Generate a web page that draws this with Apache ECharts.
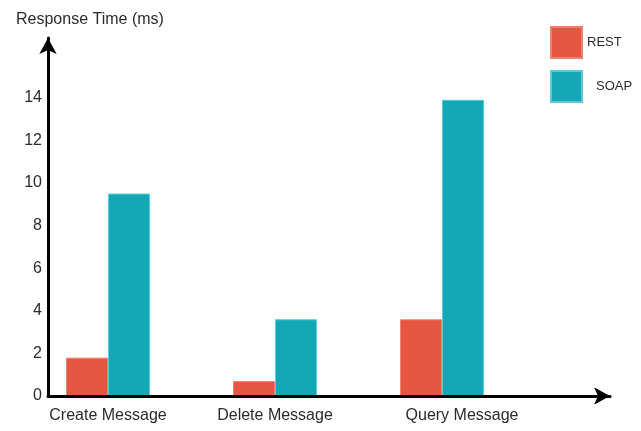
<!DOCTYPE html>
<html><head><meta charset="utf-8">
<script src="https://cdn.jsdelivr.net/npm/echarts@6/dist/echarts.min.js"></script>
<style>html,body{margin:0;padding:0;background:#fff}#c{width:641px;height:431px}</style>
</head><body><div id="c"></div>
<script>
const categories = ['Create Message', 'Delete Message', 'Query Message'];
const restValues = [1.8, 0.7, 3.6];
const soapValues = [9.5, 3.6, 13.9];
const yTickLabels = [0, 2, 4, 6, 8, 10, 12, 14];
const seriesNames = ['REST', 'SOAP'];
const yTitle = 'Response Time (ms)';

const FONT = 'Liberation Sans, Arial, sans-serif';
const TXT = '#2b2b2b';
const chart = echarts.init(document.getElementById('c'), null, {renderer: 'canvas'});
const yMax = 16.8;

chart.setOption({
  backgroundColor: '#fff',
  animation: false,
  title: {
    text: yTitle, left: 11, top: 7,
    textStyle: {fontFamily: FONT, fontSize: 16, fontWeight: 'normal', color: TXT}
  },
  legend: {
    orient: 'vertical', left: 545, top: 21,
    itemWidth: 31, itemHeight: 31, itemGap: 11,
    icon: 'rect',
    data: [
      {name: seriesNames[0], textStyle: {padding: [4, 0, 0, 0]}},
      {name: seriesNames[1], textStyle: {padding: [10, 0, 0, 9]}}
    ],
    textStyle: {fontFamily: FONT, fontSize: 13, color: TXT}
  },
  grid: [
    {left: 24.5, right: 115.5, top: 38, bottom: 35},
    {left: 48, right: 31, top: 38, bottom: 35}
  ],
  xAxis: [
    {
      type: 'category', gridIndex: 0,
      data: categories.map((c, i) => i === 2 ? {value: c, textStyle: {padding: [0, 0, 0, 40]}} : c),
      axisLine: {show: false}, axisTick: {show: false},
      axisLabel: {margin: 12, fontFamily: FONT, fontSize: 16, color: TXT}
    },
    {
      type: 'category', gridIndex: 1, data: categories, z: 5,
      axisLine: {show: true, symbol: ['none', 'arrow'], symbolSize: [13, 16],
                 lineStyle: {color: '#000', width: 3}},
      axisTick: {show: false}, axisLabel: {show: false}
    }
  ],
  yAxis: [
    {
      type: 'value', gridIndex: 0, min: 0, max: yMax,
      show: false, splitLine: {show: false}
    },
    {
      type: 'value', gridIndex: 1, min: 0, max: yMax, interval: 2, z: 5,
      axisLine: {show: true, symbol: ['none', 'arrow'], symbolSize: [13, 16],
                 lineStyle: {color: '#000', width: 3}},
      axisTick: {show: false},
      splitLine: {show: false},
      axisLabel: {
        margin: 6, fontFamily: FONT, fontSize: 16, color: TXT,
        formatter: v => yTickLabels.includes(v) ? String(v) : ''
      }
    }
  ],
  series: [
    {
      name: seriesNames[0], type: 'bar', xAxisIndex: 0, yAxisIndex: 0,
      data: restValues, barWidth: 42, barGap: '0%',
      itemStyle: {color: '#E75643', borderColor: '#F08070', borderWidth: 1}
    },
    {
      name: seriesNames[1], type: 'bar', xAxisIndex: 0, yAxisIndex: 0,
      data: soapValues, barWidth: 42, barGap: '0%',
      itemStyle: {color: '#14A8B6', borderColor: '#5CCAD3', borderWidth: 1}
    }
  ]
});
</script>
</body></html>
